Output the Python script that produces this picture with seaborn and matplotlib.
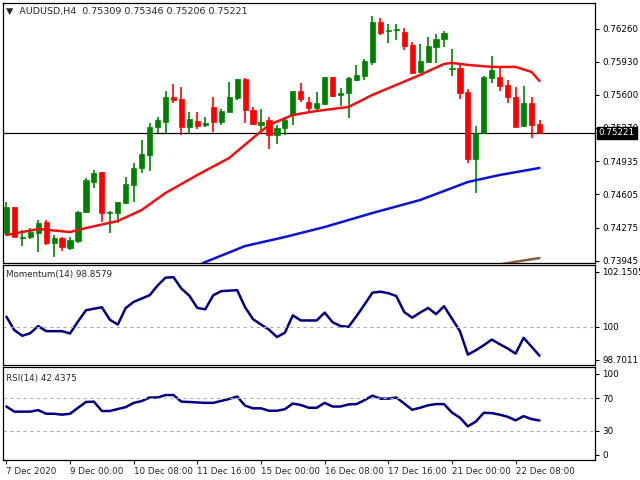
import numpy as np
import pandas as pd
import matplotlib
matplotlib.use("Agg")
import matplotlib.pyplot as plt
import seaborn as sns

opens = [0.7422,0.7448,0.7417,0.7418,0.7422,0.7433,0.7412,0.7417,0.7407,0.7414,
         0.7443,0.7473,0.7483,0.7442,0.7442,0.7452,0.7470,0.7487,0.7500,0.7528,
         0.7533,0.7558,0.7556,0.7528,0.7534,0.7530,0.7548,0.7533,0.7543,0.7557,
         0.7576,0.7545,0.7530,0.7535,0.7520,0.7527,0.7540,0.7564,0.7553,0.7547,
         0.7551,0.7578,0.7560,0.7562,0.7575,0.7579,0.7593,0.7633,0.7624,0.7625,
         0.7623,0.7610,0.7583,0.7593,0.7608,0.7616,0.7586,0.7587,0.7563,0.7496,
         0.7522,0.7577,0.7578,0.7570,0.7558,0.7529,0.7552,0.75309]
closes = [0.7448,0.7418,0.7418,0.7423,0.7432,0.7412,0.7417,0.7408,0.7415,0.7443,
          0.7475,0.7482,0.7442,0.7443,0.7453,0.7471,0.7487,0.7501,0.7528,0.7535,
          0.7558,0.7555,0.7528,0.7536,0.7529,0.7532,0.7533,0.7544,0.7558,0.7576,
          0.7545,0.7531,0.7533,0.7520,0.7527,0.7535,0.7564,0.7556,0.7547,0.7552,
          0.7578,0.7559,0.7562,0.7577,0.7580,0.7594,0.7633,0.7622,0.7625,0.7626,
          0.7609,0.7582,0.7594,0.7609,0.7616,0.7622,0.7587,0.7562,0.7496,0.7522,
          0.7578,0.7585,0.7569,0.7558,0.7528,0.7552,0.7530,0.75221]
highs = [0.7453,0.7448,0.7425,0.7427,0.7435,0.7435,0.7420,0.7418,0.7418,0.7444,
         0.7477,0.7485,0.7483,0.7444,0.7453,0.7478,0.7492,0.7515,0.7532,0.7538,
         0.7564,0.7571,0.7568,0.7543,0.7543,0.7538,0.7558,0.7546,0.7573,0.7576,
         0.7577,0.7548,0.7546,0.7538,0.7530,0.7538,0.7564,0.7572,0.7558,0.7563,
         0.7578,0.7578,0.7567,0.7578,0.7590,0.7596,0.7639,0.7637,0.7631,0.7631,
         0.7627,0.7613,0.7611,0.7618,0.7621,0.7624,0.7606,0.7590,0.7566,0.7529,
         0.7579,0.7599,0.7588,0.7575,0.7568,0.7569,0.7558,0.75346]
lows = [0.7420,0.7418,0.7409,0.7416,0.7403,0.7410,0.7398,0.7404,0.7405,0.7412,
        0.7442,0.7467,0.7433,0.7422,0.7432,0.7451,0.7453,0.7482,0.7484,0.7522,
        0.7522,0.7552,0.7520,0.7522,0.7526,0.7528,0.7523,0.7530,0.7543,0.7555,
        0.7532,0.7530,0.7525,0.7506,0.7511,0.7520,0.7530,0.7553,0.7543,0.7545,
        0.7550,0.7558,0.7549,0.7537,0.7574,0.7575,0.7590,0.7620,0.7612,0.7615,
        0.7605,0.7581,0.7582,0.7592,0.7592,0.7608,0.7579,0.7556,0.7492,0.7462,
        0.7521,0.7572,0.7564,0.7552,0.7528,0.7528,0.7517,0.75206]

red_ma_idx = [0,4,8,10,14,17,20,24,28,31,33,36,39,40,43,46,49,52,55,56,58,61,64,66,67]
red_ma = [0.7420,0.7426,0.7423,0.7427,0.7434,0.7445,0.7462,0.7480,0.7497,0.7517,0.7530,
          0.7540,0.7544,0.7545,0.7548,0.7560,0.7570,0.7580,0.7591,0.7592,0.7590,0.7588,
          0.7588,0.7583,0.7574]
blue_ma_idx = [24,25,30,35,40,46,52,58,62,67]
blue_ma = [0.7389,0.7393,0.7409,0.7418,0.7428,0.7442,0.7455,0.7473,0.7480,0.7487]
brown_ma_idx = [60,63,67]
brown_ma = [0.7388,0.7392,0.7397]

momentum = [100.39,99.86,99.64,99.74,100.02,99.82,99.82,99.82,99.73,100.2,
            100.64,100.7,100.76,100.27,100.08,100.73,100.97,101.1,101.23,101.61,
            101.92,101.94,101.49,101.21,100.73,100.68,101.23,101.39,101.41,101.43,
            100.76,100.29,100.08,99.88,99.59,99.76,100.44,100.24,100.24,100.24,
            100.55,100.17,100.02,99.99,100.41,100.86,101.33,101.37,101.31,101.20,
            100.57,100.35,100.55,100.73,100.49,100.80,100.31,99.82,98.90,99.07,
            99.27,99.49,99.31,99.14,98.94,99.56,99.21,98.8579]
rsi = [59.6,53.3,53.3,53.3,55.2,50.7,50.7,49.6,50.7,58.0,
       65.2,65.6,54.1,54.1,56.5,58.9,64.1,66.3,70.7,70.7,
       73.7,73.7,65.6,65.2,64.6,64.1,64.1,66.5,68.9,71.9,
       60.7,57.4,57.4,54.4,54.4,56.3,63.3,61.5,58.1,58.1,
       64.1,59.6,59.6,62.2,62.6,67.4,73.0,69.3,69.3,70.7,
       63.3,55.6,58.1,61.1,62.6,62.6,52.2,45.9,35.2,41.1,
       51.9,51.5,49.6,47.0,42.6,47.8,44.1,42.4375]

price_ticks = [0.76260,0.75930,0.75600,0.75270,0.74935,0.74605,0.74275,0.73945]
x_tick_pos = [0,8,16,24,32,40,48,56,64]
x_tick_labels = ["7 Dec 2020","9 Dec 00:00","10 Dec 08:00","11 Dec 16:00","15 Dec 00:00",
                 "16 Dec 08:00","17 Dec 16:00","21 Dec 00:00","22 Dec 08:00"]

sns.set_theme(style="white")
plt.rcParams["font.family"] = "DejaVu Sans"
fs = 6.3
fig = plt.figure(figsize=(6.4, 4.8), dpi=100)
L, R = 0.005, 0.93
ax1 = fig.add_axes([L, 0.452, R - L, 0.542])
ax2 = fig.add_axes([L, 0.24, R - L, 0.207])
ax3 = fig.add_axes([L, 0.042, R - L, 0.193])
xlim = (-0.4, 74)

df = pd.DataFrame({"i": np.arange(len(opens)), "o": opens, "c": closes, "h": highs, "l": lows})
up = df["c"] >= df["o"]
cols = np.where(up, "#008000", "#ff0000")
ax1.vlines(df["i"], df["l"], df["h"], colors=cols, lw=1.2, zorder=3)
ax1.bar(df["i"], (df["c"] - df["o"]).abs().clip(lower=0.00004), bottom=np.minimum(df["o"], df["c"]),
        width=0.65, color=cols, edgecolor=cols, lw=0.5, zorder=4)
sns.lineplot(x=red_ma_idx, y=red_ma, ax=ax1, color="#ee1111", lw=1.8, zorder=5)
sns.lineplot(x=blue_ma_idx, y=blue_ma, ax=ax1, color="#0a14d8", lw=1.8, zorder=5)
sns.lineplot(x=brown_ma_idx, y=brown_ma, ax=ax1, color="#8b5a3c", lw=1.8, zorder=5)
ax1.axhline(closes[-1], color="black", lw=0.9, zorder=2)
ax1.set_ylim(0.7392, 0.7652)
ax1.set_yticks(price_ticks)
ax1.set_yticklabels([f"{t:.5f}" for t in price_ticks])
ax1.text(0.004, 0.985, "\u25BC  AUDUSD,H4  0.75309 0.75346 0.75206 0.75221", transform=ax1.transAxes,
         fontsize=fs + 0.5, va="top", ha="left")
ax1.text(1.006, closes[-1], f"{closes[-1]:.5f}", transform=ax1.get_yaxis_transform(), fontsize=fs,
         va="center", ha="left", color="white", zorder=10,
         bbox=dict(boxstyle="square,pad=0.2", fc="black", ec="black"))

sns.lineplot(x=np.arange(len(momentum)), y=momentum, ax=ax2, color="#000080", lw=1.8)
ax2.axhline(100, color="#b0b0b0", lw=0.8, ls=(0, (3, 3)))
ax2.set_ylim(98.5, 102.4)
ax2.set_yticks([102.1505, 100, 98.7011])
ax2.set_yticklabels(["102.1505", "100", "98.7011"])
ax2.text(0.004, 0.95, f"Momentum(14) {momentum[-1]:.4f}", transform=ax2.transAxes, fontsize=fs, va="top")

sns.lineplot(x=np.arange(len(rsi)), y=rsi, ax=ax3, color="#000080", lw=1.8)
for lv in (70, 30):
    ax3.axhline(lv, color="#b0b0b0", lw=0.8, ls=(0, (3, 3)))
ax3.set_ylim(-6, 108)
ax3.set_yticks([100, 70, 30, 0])
ax3.text(0.004, 0.93, f"RSI(14) {rsi[-1]:.4f}", transform=ax3.transAxes, fontsize=fs, va="top")

for ax in (ax1, ax2, ax3):
    ax.set_xlim(*xlim)
    ax.yaxis.tick_right()
    ax.set_xlabel(""); ax.set_ylabel("")
    ax.tick_params(axis="y", labelsize=fs, length=3, width=0.8, pad=2, right=True, colors="black")
    for s in ax.spines.values():
        s.set_color("black"); s.set_linewidth(0.9)
    ax.set_xticks(x_tick_pos)
    ax.grid(False)
for ax in (ax1, ax2):
    ax.tick_params(axis="x", length=0, labelbottom=False)
ax3.set_xticklabels(x_tick_labels, ha="left")
ax3.tick_params(axis="x", labelsize=fs, length=3, width=0.8, pad=2, bottom=True)

fig.savefig("out.png", dpi=100, facecolor="white")
